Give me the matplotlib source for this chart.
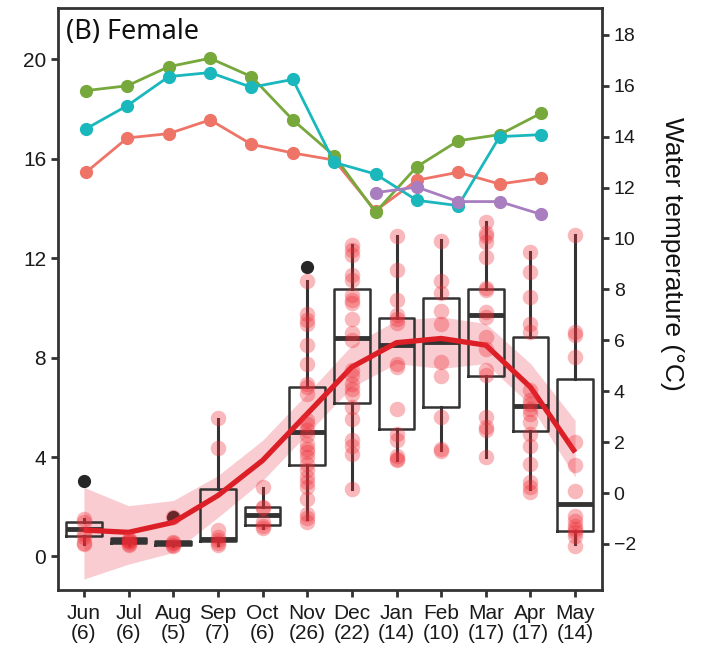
import matplotlib
matplotlib.use('Agg')
import matplotlib.pyplot as plt
import numpy as np

plt.rcParams['font.family'] = ['Liberation Sans Narrow', 'Liberation Sans', 'DejaVu Sans']

months = ['Jun', 'Jul', 'Aug', 'Sep', 'Oct', 'Nov', 'Dec', 'Jan', 'Feb', 'Mar', 'Apr', 'May']
n_fish = [6, 6, 5, 7, 6, 26, 22, 14, 10, 17, 17, 14]

# box statistics (left axis)
box_q1 = [0.83, 0.56, 0.45, 0.62, 1.27, 3.66, 6.19, 5.14, 6.01, 7.25, 5.04, 1.04]
box_med = [1.12, 0.64, 0.53, 0.72, 1.66, 5.00, 8.79, 8.50, 8.63, 9.72, 6.05, 2.11]
box_q3 = [1.40, 0.74, 0.62, 2.72, 2.00, 6.81, 10.74, 9.60, 10.40, 10.75, 8.83, 7.14]
box_lo = [0.50, 0.45, 0.43, 0.47, 1.15, 1.51, 2.72, 3.89, 4.29, 4.02, 2.72, 0.50]
box_hi = [1.51, 0.74, 0.62, 5.54, 2.76, 11.08, 12.53, 12.89, 12.73, 13.47, 12.23, 12.93]
box_out = [[3.05], [], [1.57], [], [], [11.63], [], [], [], [], [], []]

# individual values
points = [
    [1.51, 1.37, 0.90, 0.77, 0.56, 0.50],
    [0.72, 0.66, 0.62, 0.58, 0.52, 0.45],
    [1.57, 0.60, 0.53, 0.48, 0.43],
    [5.55, 4.37, 1.07, 0.80, 0.67, 0.54, 0.47],
    [2.78, 2.00, 1.95, 1.37, 1.24, 1.15],
    [11.09, 9.77, 9.50, 9.37, 8.52, 7.76, 6.95, 6.81, 6.55, 5.47, 5.34, 5.07, 4.87,
     4.53, 4.33, 4.19, 3.99, 3.73, 3.46, 3.19, 2.98, 2.78, 2.31, 1.71, 1.55, 1.37],
    [12.52, 12.32, 12.12, 11.31, 11.11, 10.51, 10.31, 10.18, 9.57, 8.97, 8.70,
     7.49, 7.29, 6.95, 6.75, 6.55, 6.01, 5.54, 4.67, 4.46, 4.13, 2.72],
    [12.89, 11.52, 10.31, 9.70, 9.55, 9.40, 7.76, 7.62, 5.94, 4.93, 4.67, 4.05, 3.90, 3.86],
    [12.70, 11.08, 10.58, 9.88, 9.34, 7.82, 7.25, 5.60, 4.33, 4.26],
    [13.47, 13.00, 12.90, 12.66, 12.06, 10.78, 10.70, 9.84, 9.64, 8.83, 8.36, 7.49,
     7.29, 5.60, 5.20, 5.07, 3.99],
    [12.26, 11.45, 10.44, 9.37, 9.03, 6.68, 6.28, 6.15, 5.94, 5.74, 5.40, 4.93,
     4.46, 3.73, 2.98, 2.78, 2.58],
    [12.93, 9.03, 8.90, 8.02, 4.60, 3.66, 2.65, 1.64, 1.44, 1.24, 1.10, 0.97, 0.83, 0.43],
]

# smoothed trend and its band
trend = [1.06, 0.97, 1.37, 2.45, 3.86, 5.74, 7.62, 8.60, 8.77, 8.50, 6.81, 4.19]
trend_hi = [2.78, 2.04, 2.25, 3.25, 4.67, 6.55, 8.50, 9.50, 9.64, 9.37, 7.76, 5.47]
trend_lo = [-0.91, -0.31, 0.16, 1.57, 3.05, 4.93, 6.81, 7.76, 7.56, 7.76, 6.08, 3.19]

# water temperature (right axis)
temp_green = [15.81, 16.00, 16.75, 17.08, 16.36, 14.66, 13.25, 11.03, 12.82, 13.84, 14.08, 14.92]
temp_cyan = [14.31, 15.22, 16.36, 16.52, 15.94, 16.25, 12.99, 12.53, 11.50, 11.29, 14.00, 14.08]
temp_red = [12.60, 13.95, 14.12, 14.66, 13.70, 13.36, 13.08, 11.09, 12.29, 12.60, 12.14, 12.37]
temp_purple = [np.nan] * 7 + [11.80, 12.02, 11.45, 11.45, 10.95]

dark = '#333333'
x = np.arange(1, 13)

fig = plt.figure(figsize=(7.09, 6.57), dpi=100)
rect = [0.0818, 0.102, 0.849 - 0.0818, 0.988 - 0.102]
ax = fig.add_axes(rect)

ax.fill_between(x, trend_lo, trend_hi, color='#EE6F80', alpha=0.35, linewidth=0, zorder=1)

stats = []
for i in range(12):
    stats.append(dict(q1=box_q1[i], med=box_med[i], q3=box_q3[i],
                      whislo=box_lo[i], whishi=box_hi[i], fliers=box_out[i]))
ax.bxp(stats, positions=x, widths=0.8, showcaps=False, patch_artist=False,
       boxprops=dict(color=dark, linewidth=1.8),
       whiskerprops=dict(color=dark, linewidth=2.2),
       medianprops=dict(color=dark, linewidth=3.5, solid_capstyle='butt'),
       flierprops=dict(marker='o', markerfacecolor='#262626', markeredgecolor='#262626',
                       markersize=8.5),
       manage_ticks=False, zorder=2)

ax.plot(x, trend, color='#DC1F26', linewidth=3.8, zorder=3, solid_capstyle='butt')

for i in range(12):
    ax.scatter(np.full(len(points[i]), x[i]), points[i], s=125, color='#EE2A33',
               alpha=0.33, linewidths=0, zorder=4)

ax.set_xlim(0.42, 12.6)
ax.set_ylim(-1.35, 22.07)
ax.set_yticks([0, 4, 8, 12, 16, 20])
ax.set_xticks(x)
ax.set_xticklabels([f'{m}\n({n})' for m, n in zip(months, n_fish)], linespacing=1.05)
ax.tick_params(axis='both', direction='out', length=5, width=2, color=dark,
               labelsize=15, labelcolor='#1a1a1a')
ax.tick_params(axis='x', pad=5)
for s in ax.spines.values():
    s.set_linewidth(2)
    s.set_color(dark)

ax.text(0.015, 0.982, '(B) Female', transform=ax.transAxes, ha='left', va='top',
        fontsize=19.5, family=['Noto Sans', 'DejaVu Sans'], color='#111111')

# temperature lines on their own axes
ax2 = fig.add_axes(rect, frameon=False)
ax2.patch.set_alpha(0)
for vals, col in [(temp_red, '#EE7468'), (temp_green, '#77A83C'),
                  (temp_cyan, '#1AB8BD'), (temp_purple, '#A87EC0')]:
    ax2.plot(x, vals, color=col, linewidth=2, marker='o', markersize=8.5, zorder=5)
ax2.set_xlim(0.323, 13.475)
ax2.set_ylim(-3.81, 19.06)
ax2.set_xticks([])
ax2.yaxis.tick_right()
ax2.set_yticks(np.arange(-2, 19, 2))
ax2.tick_params(axis='y', direction='out', length=5, width=2, color=dark,
                labelsize=14, labelcolor='#1a1a1a')
for lab in ax2.get_yticklabels():
    lab.set_family(['Liberation Sans', 'DejaVu Sans'])

fig.text(671.5 / 709, 1 - 253.5 / 657, 'Water temperature (°C)', rotation=-90,
         ha='center', va='center', fontsize=19, family=['Liberation Sans', 'DejaVu Sans'],
         color='#111111')

fig.savefig('out.png', dpi=100)
